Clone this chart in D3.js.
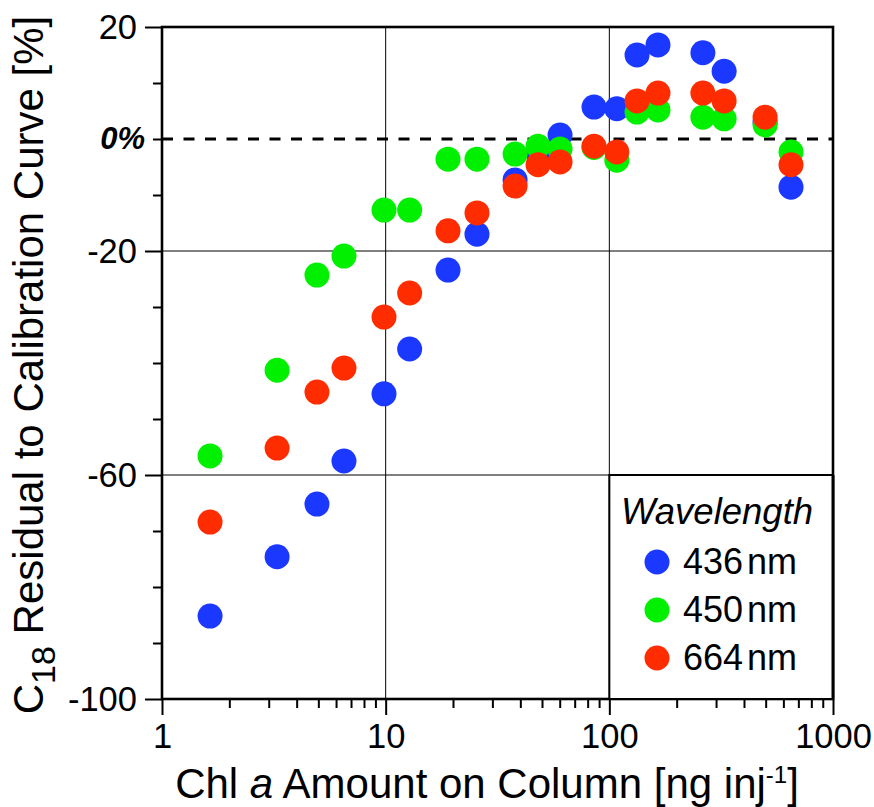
<!DOCTYPE html>
<html>
<head>
<meta charset="utf-8">
<script src="https://cdn.jsdelivr.net/npm/d3@7"></script>
<style>
  body { margin: 0; background: #fff; }
  svg { font-family: "Liberation Sans", Arial, Helvetica, sans-serif; }
</style>
</head>
<body>
<script>
// chl a amount on column [ng inj-1]
const amounts = [1.64, 3.27, 4.93, 6.51, 9.83, 12.8, 19.0, 25.6, 37.9, 48.0, 60.2, 85.4, 108, 133, 165, 262, 326, 497, 649];

// residual to calibration curve [%]
const nm436 = [-85.2, -74.6, -65.2, -57.5, -45.5, -37.5, -23.4, -17.0, -7.3, -2.5, 0.7, 5.7, 5.4, 15.0, 16.8, 15.4, 12.1, 3.0, -8.6];
const nm450 = [-56.6, -41.3, -24.3, -20.9, -12.7, -12.7, -3.6, -3.6, -2.7, -1.3, -1.8, -1.5, -3.8, 4.8, 5.2, 3.9, 3.6, 2.5, -2.3];
const nm664 = [-68.4, -55.2, -45.2, -40.9, -31.8, -27.5, -16.4, -13.2, -8.4, -4.6, -4.1, -1.3, -2.3, 6.8, 8.2, 8.2, 6.8, 3.9, -4.6];

const seriesNames = ["436", "450", "664"];
const seriesColors = ["#1a38ff", "#00f000", "#ff2c00"];

const xMajor = [1, 10, 100, 1000];
const xMinor = [2, 3, 4, 5, 6, 7, 8, 9, 20, 30, 40, 50, 60, 70, 80, 90, 200, 300, 400, 500, 600, 700, 800, 900];
const yMajor = [20, -20, -60, -100];
const yMinor = [10, 0, -10, -30, -40, -50, -70, -80, -90];
const xGrid = [10, 100];
const yGrid = [-20, -60];

const width = 874, height = 807;
const margin = {left: 162, right: 41, top: 27, bottom: 108};

let svg = d3.select("body").append("svg")
    .attr("width", width)
    .attr("height", height);

let x = d3.scaleLog()
    .domain([1, 1000])
    .range([margin.left, width - margin.right]);

let y = d3.scaleLinear()
    .domain([-100, 20])
    .range([height - margin.bottom, margin.top]);

// grid lines
svg.selectAll(".xgrid").data(xGrid).enter().append("line")
    .attr("x1", d => x(d)).attr("x2", d => x(d))
    .attr("y1", y(20)).attr("y2", y(-100))
    .attr("stroke", "#000").attr("stroke-width", 1);
svg.selectAll(".ygrid").data(yGrid).enter().append("line")
    .attr("x1", x(1)).attr("x2", x(1000))
    .attr("y1", d => y(d)).attr("y2", d => y(d))
    .attr("stroke", "#000").attr("stroke-width", 1);

// zero line
svg.append("line")
    .attr("x1", x(1)).attr("x2", x(1000))
    .attr("y1", y(0)).attr("y2", y(0))
    .attr("stroke", "#000")
    .attr("stroke-width", 3.2)
    .attr("stroke-dasharray", "11,10.5");

// axes
function styleAxis(g) {
    g.select(".domain").remove();
    g.selectAll(".tick line").attr("stroke-width", 2);
    g.selectAll(".tick text").attr("font-size", 34.5).attr("fill", "#000");
}

svg.append("g")
    .attr("transform", "translate(0," + y(-100) + ")")
    .call(d3.axisBottom(x).tickValues(xMinor).tickSize(9).tickFormat(""))
    .call(styleAxis);
svg.append("g")
    .attr("transform", "translate(0," + y(-100) + ")")
    .call(d3.axisBottom(x).tickValues(xMajor).tickSize(16).tickPadding(9).tickFormat(d => String(d)))
    .call(styleAxis);

svg.append("g")
    .attr("transform", "translate(" + x(1) + ",0)")
    .call(d3.axisLeft(y).tickValues(yMinor).tickSize(9).tickFormat(""))
    .call(styleAxis);
svg.append("g")
    .attr("transform", "translate(" + x(1) + ",0)")
    .call(d3.axisLeft(y).tickValues(yMajor).tickSize(17).tickPadding(8).tickFormat(d => String(d)))
    .call(styleAxis);

svg.append("text")
    .attr("x", x(1) - 17)
    .attr("y", y(0) + 10)
    .attr("text-anchor", "end")
    .attr("font-size", 31)
    .attr("font-weight", "bold")
    .attr("font-style", "italic")
    .text("0%");

// frame
svg.append("rect")
    .attr("x", x(1)).attr("y", y(20))
    .attr("width", x(1000) - x(1))
    .attr("height", y(-100) - y(20))
    .attr("fill", "none")
    .attr("stroke", "#000")
    .attr("stroke-width", 2.6);

// points
const allSeries = [nm436, nm450, nm664];
allSeries.forEach(function(vals, i) {
    svg.append("g")
        .selectAll("circle")
        .data(vals)
        .enter().append("circle")
        .attr("cx", (d, j) => x(amounts[j]))
        .attr("cy", d => y(d))
        .attr("r", 12.5)
        .attr("fill", seriesColors[i]);
});

// legend
svg.append("rect")
    .attr("x", x(100)).attr("y", y(-60))
    .attr("width", x(1000) - x(100))
    .attr("height", y(-100) - y(-60))
    .attr("fill", "#fff")
    .attr("stroke", "#000")
    .attr("stroke-width", 2);
svg.append("rect")
    .attr("x", x(1000) - 1.5).attr("y", y(-60))
    .attr("width", 3).attr("height", y(-100) - y(-60))
    .attr("fill", "#000");

svg.append("text")
    .attr("x", 621)
    .attr("y", 524)
    .attr("font-size", 36.5)
    .attr("font-style", "italic")
    .text("Wavelength");

let legendItems = svg.append("g")
    .selectAll("g")
    .data(seriesNames)
    .enter().append("g")
    .attr("transform", (d, i) => "translate(657," + (562 + i * 48) + ")");
legendItems.append("circle")
    .attr("r", 12.5)
    .attr("fill", (d, i) => seriesColors[i]);
let legendText = legendItems.append("text")
    .attr("x", 26)
    .attr("y", 12)
    .attr("font-size", 36);
legendText.append("tspan").text(d => d);
legendText.append("tspan").attr("dx", 4).text("nm");

// axis titles
let xTitle = svg.append("text")
    .attr("x", 487)
    .attr("y", 798)
    .attr("text-anchor", "middle")
    .attr("font-size", 42);
xTitle.append("tspan").text("Chl ");
xTitle.append("tspan").attr("font-style", "italic").text("a");
xTitle.append("tspan").text(" Amount on Column [ng inj");
xTitle.append("tspan").attr("font-size", 24).attr("dy", -15).text("-1");
xTitle.append("tspan").attr("dy", 15).text("]");

let yTitle = svg.append("text")
    .attr("transform", "translate(43,365) rotate(-90)")
    .attr("text-anchor", "middle")
    .attr("font-size", 42);
yTitle.append("tspan").text("C");
yTitle.append("tspan").attr("font-size", 34).attr("dy", 12).text("18");
yTitle.append("tspan").attr("dy", -12).text(" Residual to Calibration Curve [%]");
</script>
</body>
</html>
